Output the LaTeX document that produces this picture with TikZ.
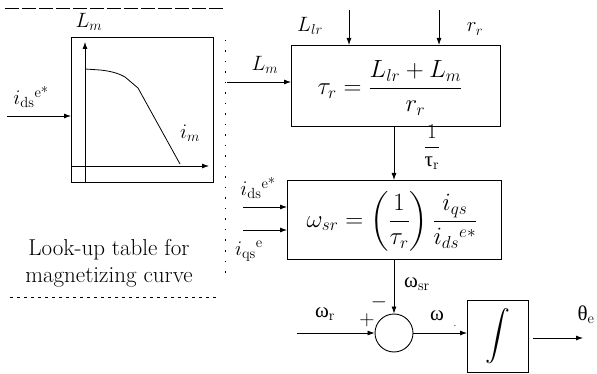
\documentclass[tikz,border=0pt]{standalone}
\usepackage{amsmath}
\usepackage{fontspec}
\newfontfamily\grk{Liberation Serif}
\usetikzlibrary{arrows.meta}
\tikzset{
  blk/.style={draw, line width=0.9pt, inner sep=0pt, anchor=north west},
  conn/.style={line width=0.8pt, -{Latex[length=7pt,width=5pt]}},
  lbl/.style={inner sep=0pt, font=\fontsize{21}{24}\selectfont},
  frm/.style={inner sep=0pt, font=\fontsize{24}{28}\selectfont},
}
\begin{document}
\begin{tikzpicture}[x=1pt,y=-1pt]
\useasboundingbox (0,0) rectangle (597,374);
% look-up table frame
\draw[line width=0.7pt, dash pattern=on 14pt off 3pt] (5,8) -- (225,8);
\draw[line width=0.7pt, dash pattern=on 1.5pt off 9pt] (225,40) -- (225,276);
\draw[line width=0.7pt, dash pattern=on 3pt off 4pt] (10,297) -- (218,297);
% graph box
\node[blk, minimum width=142pt, minimum height=145pt] (graph) at (71,37) {};
\coordinate (yb) at (85,183); \coordinate (yt) at (85,42);
\coordinate (xl) at (72,166); \coordinate (xr) at (209,166);
\draw[conn] (yb) -- (yt);
\draw[conn] (xl) -- (xr);
\draw[line width=0.8pt] (85,69) -- (100,70) .. controls (110,71) and (118,73) .. (125,77) -- (138,88) -- (180,164);
\node[lbl] (lmg) at (89,22) {$L_m$};
\node[lbl] (img) at (190,133) {$i_m$};
\coordinate (ids0) at (7,116);
\draw[conn] (ids0) -- (ids0 -| graph.west);
\node[lbl] (idsl) at (31,97) {$i_{\text{ds}}{}^{\text{e*}}$};
\node[inner sep=0pt, align=center, font=\fontsize{23}{27}\selectfont\addfontfeature{LetterSpace=3}] (lut) at (109,263) {Look-up table for\\magnetizing curve};
% tau box
\node[blk, minimum width=209pt, minimum height=81pt] (tau) at (291,45) {};
\node[frm, font=\fontsize{23.5}{28}\selectfont] (taueq) at (390,88) {$\tau_r = \dfrac{L_{lr}+L_m}{r_r}$};
\coordinate (lm0) at (227,82);
\draw[conn] (lm0) -- (lm0 -| tau.west);
\node[lbl] (lml) at (265,65) {$L_m$};
\coordinate (llr0) at (349,10);
\draw[conn] (llr0) -- (llr0 |- tau.north);
\node[lbl] (llrl) at (310,26) {$L_{lr}$};
\coordinate (rr0) at (439,10);
\draw[conn] (rr0) -- (rr0 |- tau.north);
\node[lbl] (rrl) at (475,29) {$r_r$};
% omega box
\node[blk, minimum width=214pt, minimum height=79pt] (om) at (287,180) {};
\node[frm] (omeq) at (392,221) {$\omega_{sr} = \left(\dfrac{1}{\tau_r}\right)\dfrac{i_{qs}}{i_{ds}{}^{e*}}$};
\coordinate (t0) at (394,126);
\draw[conn] (t0) -- (t0 |- om.north);
\node[lbl] (invt) at (432,147) {$\dfrac{\text{1}}{\text{\grk τ}_{\text{r}}}$};
\coordinate (ids1) at (243,207);
\draw[conn] (ids1) -- (ids1 -| om.west);
\node[lbl] (ids1l) at (258,188) {$i_{\text{ds}}{}^{\text{e*}}$};
\coordinate (iqs1) at (243,230);
\draw[conn] (iqs1) -- (iqs1 -| om.west);
\node[lbl] (iqs1l) at (249,251) {$i_{\text{qs}}{}^{\text{e}}$};
% sum
\node[draw, line width=0.9pt, circle, minimum size=38pt, inner sep=0pt] (sum) at (394,333) {};
\coordinate (o0) at (394,259);
\draw[conn] (o0) -- (sum.north);
\node[lbl] (wsrl) at (417,284) {{\grk ω}\textsubscript{sr}};
\node[lbl] (minus) at (379,302) {$-$};
\coordinate (wr0) at (297,333);
\draw[conn] (wr0) -- (sum.west);
\node[lbl] (wrl) at (325,314) {{\grk ω}\textsubscript{r}};
\node[lbl] (plus) at (367,320) {+};
% integrator
\node[blk, minimum width=61pt, minimum height=72pt] (int) at (467,300) {};
\node[inner sep=0pt, font=\fontsize{40}{44}\selectfont] (intsym) at (497.5,336) {$\displaystyle\int$};
\draw[conn] (sum.east) -- (sum.east -| int.west);
\node[lbl] (wl) at (437,316) {\grk ω};
\node[inner sep=0pt, font=\fontsize{10}{10}\selectfont] (dot) at (455,326) {.};
\coordinate (th0) at (533,338);
\coordinate (th1) at (583,338);
\draw[conn] (th0) -- (th1);
\node[lbl] (thl) at (586,315) {{\grk θ}\textsubscript{e}};
\end{tikzpicture}
\end{document}
